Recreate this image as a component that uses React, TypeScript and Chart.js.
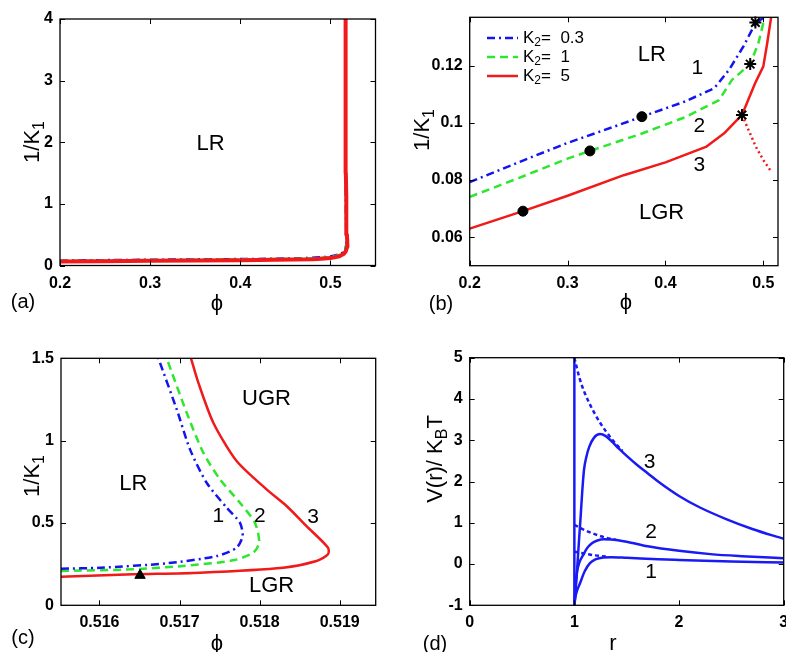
import React, { useEffect, useRef } from 'react';
import { Chart, registerables } from 'chart.js';
Chart.register(...registerables);

const W = 393;
const H = 326;
const FONT = '"Liberation Sans", "DejaVu Sans", Arial, sans-serif';
const BLUE = '#1414f0';
const GREEN = '#2ee62e';
const RED = '#f01a1a';
const DBLUE = '#1a1af5';

// ---------- Panel (a) ----------
const aXTicks = [0.2, 0.3, 0.4, 0.5];
const aYTicks = [0, 1, 2, 3, 4];
const aRedPhi = [0.2, 0.25, 0.3, 0.35, 0.4, 0.44, 0.46, 0.48, 0.49, 0.5, 0.51, 0.515, 0.517, 0.5185, 0.5188, 0.5183, 0.5178, 0.5174, 0.5171, 0.5169, 0.5168];
const aRedK = [0.063, 0.07, 0.076, 0.081, 0.087, 0.092, 0.097, 0.103, 0.11, 0.12, 0.15, 0.19, 0.23, 0.3, 0.34, 0.5, 0.7, 1.1, 1.5, 2.5, 4];
const aBluePhi = [0.2, 0.25, 0.3, 0.35, 0.376, 0.42, 0.45, 0.47, 0.49, 0.5, 0.51, 0.516, 0.5178, 0.5177, 0.5173, 0.5167, 0.5165, 0.5164];
const aBlueK = [0.079, 0.087, 0.093, 0.099, 0.102, 0.107, 0.112, 0.12, 0.133, 0.145, 0.18, 0.23, 0.35, 0.5, 0.75, 1.5, 2.5, 4];
const aGreenPhi = [0.2, 0.25, 0.3, 0.323, 0.376, 0.42, 0.455, 0.47, 0.487, 0.5, 0.51, 0.516, 0.518, 0.5179, 0.5175, 0.5168, 0.5166, 0.5165];
const aGreenK = [0.074, 0.082, 0.088, 0.09, 0.096, 0.102, 0.108, 0.115, 0.121, 0.136, 0.17, 0.21, 0.38, 0.5, 0.75, 1.5, 2.5, 4];

// ---------- Panel (b) ----------
const bXTicks = [0.2, 0.3, 0.4, 0.5];
const bYTicks = [0.06, 0.08, 0.1, 0.12];
const bBluePhi = [0.2, 0.2637, 0.3, 0.35, 0.376, 0.42, 0.45, 0.465, 0.48, 0.492, 0.5];
const bBlueK = [0.0793, 0.0881, 0.093, 0.099, 0.1022, 0.1075, 0.1122, 0.1186, 0.127, 0.135, 0.1368];
const bGreenPhi = [0.2, 0.25, 0.3, 0.3228, 0.376, 0.42, 0.4547, 0.468, 0.4866, 0.495, 0.5, 0.5005];
const bGreenK = [0.0741, 0.0807, 0.0875, 0.0902, 0.0963, 0.102, 0.108, 0.1151, 0.1206, 0.128, 0.135, 0.137];
const bRedPhi = [0.2, 0.2544, 0.3, 0.3574, 0.4, 0.4413, 0.4597, 0.4782, 0.4916, 0.5, 0.504, 0.508];
const bRedK = [0.063, 0.0691, 0.0745, 0.0817, 0.0862, 0.0916, 0.0963, 0.1028, 0.1139, 0.1198, 0.128, 0.137];
const bRedDotPhi = [0.4782, 0.4923, 0.5, 0.5084];
const bRedDotK = [0.1028, 0.0917, 0.087, 0.0828];
const bDotPhi = [0.2544, 0.3228, 0.3759];
const bDotK = [0.0691, 0.0902, 0.1022];
const bStarPhi = [0.4919, 0.4866, 0.4782];
const bStarK = [0.1352, 0.1206, 0.1028];
const bLegend = ['0.3', '1', '5'];

// ---------- Panel (c) ----------
const cXTicks = [0.516, 0.517, 0.518, 0.519];
const cYTicks = [0, 0.5, 1, 1.5];
const cRedPhi = [0.51552, 0.516424, 0.517256, 0.518294, 0.518711, 0.518855, 0.518855, 0.518586, 0.518337, 0.518087, 0.517713, 0.517422, 0.517235, 0.517143];
const cRedK = [0.174, 0.188, 0.198, 0.228, 0.269, 0.31, 0.35, 0.481, 0.603, 0.704, 0.876, 1.109, 1.352, 1.5];
const cBluePhi = [0.51552, 0.516009, 0.51684, 0.517464, 0.517713, 0.517788, 0.517754, 0.517589, 0.517339, 0.517131, 0.516965, 0.516736];
const cBlueK = [0.222, 0.228, 0.255, 0.299, 0.35, 0.421, 0.502, 0.593, 0.744, 0.947, 1.19, 1.5];
const cGreenPhi = [0.51552, 0.516424, 0.517047, 0.517671, 0.51792, 0.517995, 0.517941, 0.517754, 0.517505, 0.517297, 0.51709, 0.51684];
const cGreenK = [0.208, 0.219, 0.239, 0.273, 0.319, 0.38, 0.502, 0.623, 0.765, 0.927, 1.169, 1.5];
const cTriPhi = [0.516507];
const cTriK = [0.182];

// ---------- Panel (d) ----------
const dXTicks = [0, 1, 2, 3];
const dYTicks = [-1, 0, 1, 2, 3, 4, 5];
const dWallR = [1, 1];
const dWallV = [-1, 5];
const d3R = [1.0, 1.012, 1.028, 1.045, 1.06, 1.075, 1.092, 1.115, 1.142, 1.19, 1.245, 1.3, 1.4, 1.5, 1.6, 1.7, 1.8, 2.0, 2.2, 2.45, 2.7, 3.0];
const d3V = [-1, -0.63, -0.06, 0.6, 1.15, 1.75, 2.28, 2.6, 2.84, 3.07, 3.15, 3.1, 2.86, 2.62, 2.4, 2.2, 2.0, 1.65, 1.37, 1.09, 0.85, 0.61];
const d3DashR = [1.0, 1.05, 1.1, 1.2, 1.3, 1.4, 1.46];
const d3DashV = [5.0, 4.5, 4.14, 3.62, 3.22, 2.9, 2.74];
const d2R = [1.0, 1.01, 1.025, 1.05, 1.085, 1.12, 1.165, 1.22, 1.28, 1.35, 1.5, 1.7, 2.0, 2.3, 2.6, 3.0];
const d2V = [-1, -0.6, -0.2, 0.05, 0.22, 0.38, 0.5, 0.57, 0.6, 0.595, 0.54, 0.43, 0.32, 0.24, 0.19, 0.14];
const d2DashR = [1.0, 1.1, 1.2, 1.3, 1.4];
const d2DashV = [0.95, 0.82, 0.72, 0.64, 0.585];
const d1R = [1.0, 1.01, 1.025, 1.053, 1.1, 1.149, 1.2, 1.276, 1.35, 1.5, 1.8, 2.0, 2.5, 3.0];
const d1V = [-1, -0.8, -0.65, -0.47, -0.17, 0.02, 0.11, 0.16, 0.165, 0.15, 0.115, 0.098, 0.06, 0.035];
const d1DashR = [1.0, 1.1, 1.2, 1.3];
const d1DashV = [0.3, 0.25, 0.21, 0.18];

type Part = { t: string; sub?: boolean };
type Txt = { x: number; y: number; s: string; size: number };
type LineS = { xs: number[]; ys: number[]; color: string; width: number; dash?: number[]; tension?: number; mono?: boolean };
type MarkS = { xs: number[]; ys: number[]; style: string; radius: number; border: number };
type LegendRow = { color: string; dash: number[]; value: string };

interface PanelCfg {
  ox: number; oy: number;
  left: number; top: number; right: number; bottom: number;
  xMin: number; xMax: number; yMin: number; yMax: number;
  xTicks: number[]; yTicks: number[];
  lines: LineS[]; marks: MarkS[];
  texts: Txt[];
  letter: string; letterPos: [number, number];
  xTitle: Part[]; xTitlePos: [number, number];
  yTitle: Part[]; yTitlePos: [number, number];
  legend?: { rows: LegendRow[]; x0: number; x1: number; tx: number; ys: number[] };
}

const pts = (xs: number[], ys: number[]) => xs.map((x, i) => ({ x, y: ys[i] }));

function partsWidth(ctx: CanvasRenderingContext2D, parts: Part[], size: number) {
  let w = 0;
  for (const p of parts) {
    ctx.font = `${p.sub ? Math.round(size * 0.72) : size}px ${FONT}`;
    w += ctx.measureText(p.t).width;
  }
  return w;
}

function drawParts(ctx: CanvasRenderingContext2D, parts: Part[], x: number, y: number, size: number, rotate: boolean, align: 'center' | 'left' = 'center') {
  ctx.save();
  ctx.translate(x, y);
  if (rotate) ctx.rotate(-Math.PI / 2);
  const w = partsWidth(ctx, parts, size);
  let cx = align === 'center' ? -w / 2 : 0;
  ctx.fillStyle = '#000';
  ctx.textBaseline = 'middle';
  ctx.textAlign = 'left';
  for (const p of parts) {
    ctx.font = `${p.sub ? Math.round(size * 0.72) : size}px ${FONT}`;
    ctx.fillText(p.t, cx, p.sub ? size * 0.3 : 0);
    cx += ctx.measureText(p.t).width;
  }
  ctx.restore();
}

function buildConfig(cfg: PanelCfg): any {
  const datasets: any[] = [];
  for (const m of cfg.marks) {
    datasets.push({
      data: pts(m.xs, m.ys), showLine: false, pointStyle: m.style, pointRadius: m.radius,
      backgroundColor: '#000', borderColor: '#000', borderWidth: m.border, clip: false,
    });
  }
  for (const l of cfg.lines) {
    datasets.push({
      data: pts(l.xs, l.ys), showLine: true, pointRadius: 0, borderColor: l.color,
      borderWidth: l.width, borderDash: l.dash || [], tension: l.tension || 0,
      cubicInterpolationMode: l.mono ? 'monotone' : 'default', fill: false,
      borderCapStyle: 'butt', borderJoinStyle: 'round',
    });
  }
  const tickFont = { family: FONT, size: 16, weight: 'bold' as const };
  const decor = {
    id: 'decor',
    afterDraw(chart: any) {
      const { ctx, chartArea: a, scales } = chart;
      const xs = scales.x, ys = scales.y;
      ctx.save();
      ctx.strokeStyle = '#000';
      ctx.lineWidth = 1.3;
      ctx.setLineDash([]);
      ctx.strokeRect(a.left, a.top, a.right - a.left, a.bottom - a.top);
      ctx.lineWidth = 1;
      ctx.beginPath();
      for (const v of cfg.xTicks) {
        const p = Math.round(xs.getPixelForValue(v)) + 0.5;
        ctx.moveTo(p, a.bottom); ctx.lineTo(p, a.bottom - 5);
        ctx.moveTo(p, a.top); ctx.lineTo(p, a.top + 5);
      }
      for (const v of cfg.yTicks) {
        const p = Math.round(ys.getPixelForValue(v)) + 0.5;
        ctx.moveTo(a.left, p); ctx.lineTo(a.left + 5, p);
        ctx.moveTo(a.right, p); ctx.lineTo(a.right - 5, p);
      }
      ctx.stroke();
      for (const t of cfg.texts) {
        drawParts(ctx, [{ t: t.s }], xs.getPixelForValue(t.x), ys.getPixelForValue(t.y), t.size, false);
      }
      drawParts(ctx, [{ t: cfg.letter }], cfg.letterPos[0], cfg.letterPos[1], 20, false);
      drawParts(ctx, cfg.xTitle, cfg.xTitlePos[0], cfg.xTitlePos[1], 22, false);
      drawParts(ctx, cfg.yTitle, cfg.yTitlePos[0], cfg.yTitlePos[1], 22, true);
      if (cfg.legend) {
        const lg = cfg.legend;
        lg.rows.forEach((r, i) => {
          const y = lg.ys[i];
          ctx.save();
          ctx.strokeStyle = r.color;
          ctx.lineWidth = 2.5;
          ctx.setLineDash(r.dash);
          ctx.beginPath();
          ctx.moveTo(lg.x0, y); ctx.lineTo(lg.x1, y);
          ctx.stroke();
          ctx.restore();
          drawParts(ctx, [{ t: 'K' }, { t: '2', sub: true }, { t: '=  ' + r.value }], lg.tx, y, 17, false, 'left');
        });
      }
      ctx.restore();
    },
  };
  return {
    type: 'scatter',
    data: { datasets },
    plugins: [decor],
    options: {
      animation: false, responsive: false, devicePixelRatio: 1, events: [],
      layout: { padding: { left: 0, top: cfg.top, right: W - cfg.right, bottom: 0 } },
      plugins: { legend: { display: false }, tooltip: { enabled: false } },
      scales: {
        x: {
          type: 'linear', min: cfg.xMin, max: cfg.xMax,
          grid: { display: false, drawTicks: false }, border: { display: false },
          afterBuildTicks: (s: any) => { s.ticks = cfg.xTicks.map((v) => ({ value: v })); },
          afterFit: (s: any) => { s.height = H - cfg.bottom; s.paddingLeft = 0; s.paddingRight = 0; },
          ticks: { font: tickFont, color: '#000', padding: 8, maxRotation: 0, autoSkip: false, callback: (v: any) => String(v) },
        },
        y: {
          type: 'linear', min: cfg.yMin, max: cfg.yMax,
          grid: { display: false, drawTicks: false }, border: { display: false },
          afterBuildTicks: (s: any) => { s.ticks = cfg.yTicks.map((v) => ({ value: v })); },
          afterFit: (s: any) => { s.width = cfg.left; s.paddingTop = 0; s.paddingBottom = 0; },
          ticks: { font: tickFont, color: '#000', padding: 7, autoSkip: false, callback: (v: any) => String(v) },
        },
      },
    },
  };
}

const K1: Part[] = [{ t: '1/K' }, { t: '1', sub: true }];
const PHI: Part[] = [{ t: '\u03D5' }];

const panels: PanelCfg[] = [
  {
    ox: 0, oy: 0, left: 60, top: 19, right: 375.5, bottom: 265.5,
    xMin: 0.2, xMax: 0.55, yMin: 0, yMax: 4, xTicks: aXTicks, yTicks: aYTicks,
    lines: [
      { xs: aRedPhi, ys: aRedK, color: RED, width: 4 },
      { xs: aGreenPhi, ys: aGreenK, color: GREEN, width: 2.5, dash: [8, 5] },
      { xs: aBluePhi, ys: aBlueK, color: BLUE, width: 2.5, dash: [8, 4, 2, 4] },
    ],
    marks: [],
    texts: [{ x: 0.367, y: 1.97, s: 'LR', size: 22 }],
    letter: '(a)', letterPos: [23, 302], xTitle: PHI, xTitlePos: [217, 304], yTitle: K1, yTitlePos: [33, 142],
  },
  {
    ox: 393, oy: 0, left: 76.7, top: 17.3, right: 390, bottom: 265.7,
    xMin: 0.2, xMax: 0.515, yMin: 0.05, yMax: 0.137, xTicks: bXTicks, yTicks: bYTicks,
    lines: [
      { xs: bBluePhi, ys: bBlueK, color: BLUE, width: 2.5, dash: [8, 4, 2, 4] },
      { xs: bGreenPhi, ys: bGreenK, color: GREEN, width: 2.5, dash: [8, 5] },
      { xs: bRedPhi, ys: bRedK, color: RED, width: 2.5 },
      { xs: bRedDotPhi, ys: bRedDotK, color: RED, width: 2.5, dash: [2, 3] },
    ],
    marks: [
      { xs: bDotPhi, ys: bDotK, style: 'circle', radius: 5, border: 1 },
      { xs: bStarPhi, ys: bStarK, style: 'star', radius: 6, border: 2 },
    ],
    texts: [
      { x: 0.386, y: 0.1239, s: 'LR', size: 22 },
      { x: 0.4326, y: 0.1193, s: '1', size: 21 },
      { x: 0.4346, y: 0.0987, s: '2', size: 21 },
      { x: 0.4346, y: 0.0852, s: '3', size: 21 },
      { x: 0.396, y: 0.0684, s: 'LGR', size: 22 },
    ],
    letter: '(b)', letterPos: [48, 304], xTitle: PHI, xTitlePos: [233, 303], yTitle: K1, yTitlePos: [30, 130],
    legend: {
      rows: [
        { color: BLUE, dash: [8, 4, 2, 4], value: bLegend[0] },
        { color: GREEN, dash: [8, 5], value: bLegend[1] },
        { color: RED, dash: [], value: bLegend[2] },
      ],
      x0: 94, x1: 125, tx: 130, ys: [38, 57, 76],
    },
  },
  {
    ox: 0, oy: 326, left: 61, top: 32.3, right: 375.7, bottom: 279.3,
    xMin: 0.51552, xMax: 0.51945, yMin: 0, yMax: 1.5, xTicks: cXTicks, yTicks: cYTicks,
    lines: [
      { xs: cRedPhi, ys: cRedK, color: RED, width: 2.5, tension: 0.25 },
      { xs: cBluePhi, ys: cBlueK, color: BLUE, width: 2.5, dash: [8, 4, 2, 4], tension: 0.25 },
      { xs: cGreenPhi, ys: cGreenK, color: GREEN, width: 2.5, dash: [8, 5], tension: 0.25 },
    ],
    marks: [{ xs: cTriPhi, ys: cTriK, style: 'triangle', radius: 6, border: 1 }],
    texts: [
      { x: 0.518087, y: 1.251, s: 'UGR', size: 22 },
      { x: 0.516424, y: 0.735, s: 'LR', size: 22 },
      { x: 0.517484, y: 0.542, s: '1', size: 21 },
      { x: 0.518004, y: 0.542, s: '2', size: 21 },
      { x: 0.518668, y: 0.532, s: '3', size: 21 },
      { x: 0.51815, y: 0.117, s: 'LGR', size: 22 },
    ],
    letter: '(c)', letterPos: [23, 312], xTitle: PHI, xTitlePos: [217, 318], yTitle: K1, yTitlePos: [33, 150],
  },
  {
    ox: 393, oy: 326, left: 76.7, top: 31.7, right: 390.7, bottom: 279.3,
    xMin: 0, xMax: 3, yMin: -1, yMax: 5, xTicks: dXTicks, yTicks: dYTicks,
    lines: [
      { xs: dWallR, ys: dWallV, color: DBLUE, width: 2.5 },
      { xs: d3R, ys: d3V, color: DBLUE, width: 2.5, tension: 0.3, mono: true },
      { xs: d3DashR, ys: d3DashV, color: DBLUE, width: 2.5, dash: [4, 3], tension: 0.3, mono: true },
      { xs: d2R, ys: d2V, color: DBLUE, width: 2.5, tension: 0.3, mono: true },
      { xs: d2DashR, ys: d2DashV, color: DBLUE, width: 2.5, dash: [4, 3], tension: 0.3, mono: true },
      { xs: d1R, ys: d1V, color: DBLUE, width: 2.5, tension: 0.3, mono: true },
      { xs: d1DashR, ys: d1DashV, color: DBLUE, width: 2.5, dash: [4, 3], tension: 0.3, mono: true },
    ],
    marks: [],
    texts: [
      { x: 1.719, y: 2.456, s: '3', size: 21 },
      { x: 1.734, y: 0.76, s: '2', size: 21 },
      { x: 1.734, y: -0.21, s: '1', size: 21 },
    ],
    letter: '(d)', letterPos: [42, 318], xTitle: [{ t: 'r' }], xTitlePos: [220, 318],
    yTitle: [{ t: 'V(r)/ K' }, { t: 'B', sub: true }, { t: 'T' }], yTitlePos: [43, 133],
  },
];

function Panel({ cfg }: { cfg: PanelCfg }) {
  const ref = useRef<HTMLCanvasElement>(null);
  useEffect(() => {
    if (!ref.current) return;
    const chart = new Chart(ref.current, buildConfig(cfg));
    return () => chart.destroy();
  }, [cfg]);
  return (
    <canvas
      ref={ref}
      width={W}
      height={H}
      style={{ position: 'absolute', left: cfg.ox, top: cfg.oy, width: W, height: H }}
    />
  );
}

export default function App() {
  return (
    <div style={{ position: 'fixed', left: 0, top: 0, width: 786, height: 652, background: '#fff', overflow: 'hidden' }}>
      {panels.map((p, i) => (
        <Panel key={i} cfg={p} />
      ))}
    </div>
  );
}
